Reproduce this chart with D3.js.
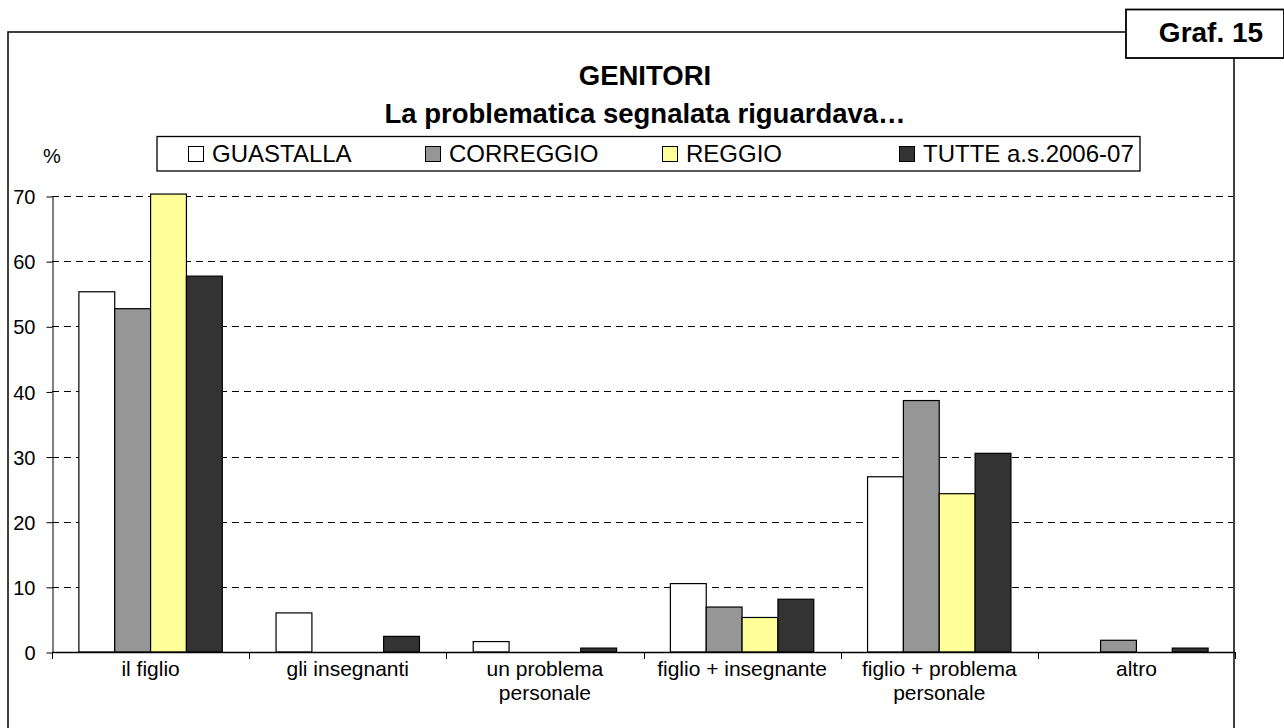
<!DOCTYPE html>
<html>
<head>
<meta charset="utf-8">
<script src="https://cdn.jsdelivr.net/npm/d3@7"></script>
<style>
  html, body { margin: 0; padding: 0; background: #fff; }
  svg { display: block; }
  text { font-family: "Liberation Sans", Arial, sans-serif; fill: #000; }
</style>
</head>
<body>
<svg id="chart" width="1284" height="728"></svg>
<script>
// ---- data ----
const categories = [
  ["il figlio"],
  ["gli insegnanti"],
  ["un problema", "personale"],
  ["figlio + insegnante"],
  ["figlio + problema", "personale"],
  ["altro"]
];
const seriesNames = ["GUASTALLA", "CORREGGIO", "REGGIO", "TUTTE a.s.2006-07"];
const guastalla = [55.3, 6.0, 1.6, 10.5, 26.9, 0];
const correggio = [52.7, 0, 0, 6.9, 38.6, 1.8];
const reggio    = [70.3, 0, 0, 5.3, 24.3, 0];
const tutte     = [57.7, 2.4, 0.6, 8.1, 30.5, 0.6];
const yTicks = [0, 10, 20, 30, 40, 50, 60, 70];
const seriesColors = ["#ffffff", "#969696", "#ffff99", "#333333"];

const seriesValues = [guastalla, correggio, reggio, tutte];

const svg = d3.select("#chart");

// ---- outer frame ----
svg.append("rect").attr("x", 8).attr("y", 32).attr("width", 1226).attr("height", 720)
  .attr("fill", "none").attr("stroke", "#000").attr("stroke-width", 1.5);

// Graf box
svg.append("rect").attr("x", 1126).attr("y", 9.5).attr("width", 158).attr("height", 48.5)
  .attr("fill", "#fff").attr("stroke", "#000").attr("stroke-width", 1.8);
svg.append("text").attr("x", 1211).attr("y", 42).attr("text-anchor", "middle")
  .attr("font-size", 28).attr("font-weight", "bold").text("Graf. 15");

// titles
svg.append("text").attr("x", 645).attr("y", 85).attr("text-anchor", "middle")
  .attr("font-size", 27.5).attr("font-weight", "bold").text("GENITORI");
svg.append("text").attr("x", 645).attr("y", 123).attr("text-anchor", "middle")
  .attr("font-size", 27.5).attr("font-weight", "bold").text("La problematica segnalata riguardava…");

// ---- scales ----
const x0 = d3.scaleBand().domain(d3.range(categories.length)).range([52, 1235]).padding(0);
const bw = x0.bandwidth();
const gapHalf = bw * 1.5 / 5.5 / 2;
const x1 = d3.scaleBand().domain(d3.range(seriesNames.length)).range([gapHalf, bw - gapHalf]).padding(0);
const y = d3.scaleLinear().domain([0, 70]).range([652, 196]);

// gridlines
svg.append("g").selectAll("line").data(yTicks.filter(d => d > 0)).join("line")
  .attr("x1", 52).attr("x2", 1233)
  .attr("y1", d => Math.round(y(d)) + 0.5).attr("y2", d => Math.round(y(d)) + 0.5)
  .attr("stroke", "#000").attr("stroke-width", 1).attr("stroke-dasharray", "7,5");

// y axis
const yAxis = d3.axisLeft(y).tickValues(yTicks).tickSize(6).tickSizeOuter(0).tickPadding(11);
const gy = svg.append("g").attr("transform", "translate(52.5,0.5)").call(yAxis);
gy.selectAll("text").attr("font-size", 20).attr("font-family", "Liberation Sans, Arial, sans-serif")
  .attr("fill", "#000").attr("dy", "0.36em");
gy.selectAll("line, path").attr("stroke", "#000");
svg.append("text").attr("x", 52).attr("y", 163).attr("text-anchor", "middle").attr("font-size", 20).text("%");

// bars
const groups = svg.append("g").selectAll("g").data(categories).join("g")
  .attr("transform", (d, i) => `translate(${x0(i)},0)`);
groups.selectAll("rect")
  .data((d, i) => seriesValues.map((vals, s) => ({ s, v: vals[i] })).filter(o => o.v > 0))
  .join("rect")
  .attr("x", d => x1(d.s))
  .attr("width", x1.bandwidth())
  .attr("y", d => y(d.v))
  .attr("height", d => y(0) - y(d.v))
  .attr("fill", d => seriesColors[d.s])
  .attr("stroke", "#000").attr("stroke-width", 1.2);

// x axis
const xAxisG = svg.append("g");
xAxisG.append("line").attr("x1", 52).attr("x2", 1235).attr("y1", 652.5).attr("y2", 652.5)
  .attr("stroke", "#000").attr("stroke-width", 1.3);
xAxisG.selectAll("line.tick").data(d3.range(categories.length + 1)).join("line")
  .attr("class", "tick")
  .attr("x1", i => Math.round(52 + i * bw) + 0.5).attr("x2", i => Math.round(52 + i * bw) + 0.5)
  .attr("y1", 652).attr("y2", 659).attr("stroke", "#000");
const labels = xAxisG.selectAll("text").data(categories).join("text")
  .attr("x", (d, i) => x0(i) + bw / 2).attr("y", 676)
  .attr("text-anchor", "middle").attr("font-size", 21);
labels.selectAll("tspan").data(d => d).join("tspan")
  .attr("x", function() { return d3.select(this.parentNode).attr("x"); })
  .attr("dy", (d, i) => i === 0 ? 0 : 24)
  .text(d => d);

// legend (equal-width columns)
const lg = svg.append("g");
lg.append("rect").attr("x", 157).attr("y", 136.5).attr("width", 983).attr("height", 34.5)
  .attr("fill", "#fff").attr("stroke", "#000").attr("stroke-width", 1.3);
const legendCol = d3.scaleBand().domain(d3.range(seriesNames.length)).range([188, 1136]).padding(0);
seriesNames.forEach((name, i) => {
  const lx = Math.round(legendCol(i));
  lg.append("rect").attr("x", lx + 0.5).attr("y", 146.5).attr("width", 15).attr("height", 15)
    .attr("fill", seriesColors[i]).attr("stroke", "#000").attr("stroke-width", 1);
  lg.append("text").attr("x", lx + 24).attr("y", 162).attr("font-size", 24).text(name);
});
</script>
</body>
</html>
